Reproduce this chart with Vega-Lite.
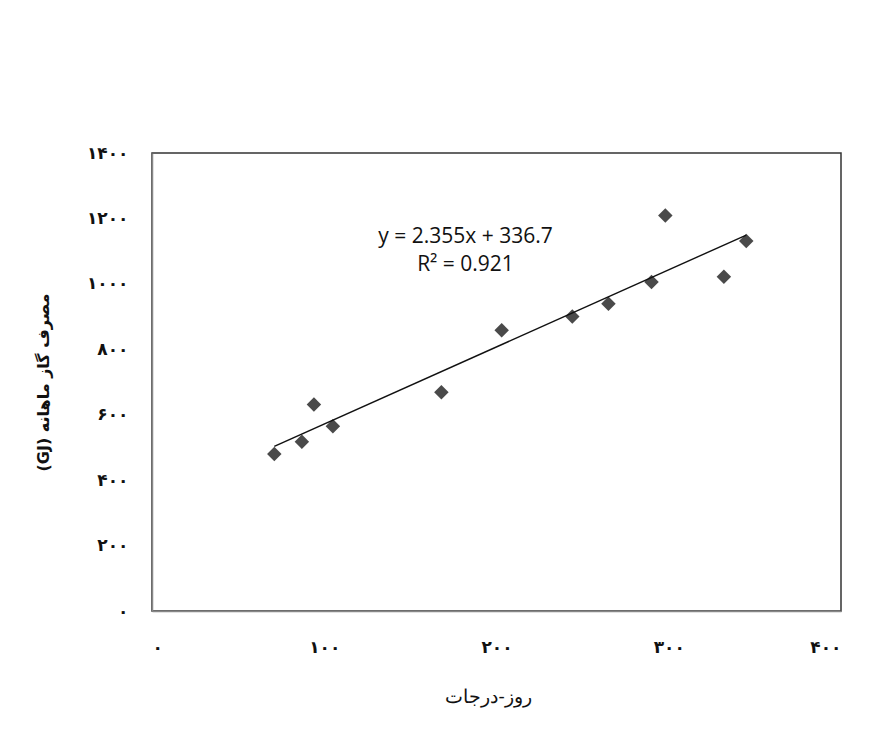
{
  "$schema": "https://vega.github.io/schema/vega-lite/v6.json",
  "autosize": "none",
  "padding": {"left": 152, "top": 153, "right": 43, "bottom": 123},
  "width": 689,
  "height": 458,
  "background": "white",
  "config": {
    "view": {"stroke": "#333333", "strokeWidth": 1.5},
    "axis": {"grid": false, "ticks": false, "domainColor": "#888888", "domainWidth": 1.5,
      "labelFont": "DejaVu Sans", "labelFontWeight": "bold", "labelFontSize": 17, "labelColor": "#111111",
      "titleFont": "DejaVu Sans", "titleFontWeight": "bold", "titleFontSize": 16, "titleColor": "#111111"}
  },
  "datasets": {
    "pts": [
      {"dd": 71, "gas": 480},
      {"dd": 87, "gas": 517},
      {"dd": 94, "gas": 631},
      {"dd": 105, "gas": 565},
      {"dd": 168, "gas": 669},
      {"dd": 203, "gas": 858},
      {"dd": 244, "gas": 900},
      {"dd": 265, "gas": 939},
      {"dd": 290, "gas": 1006},
      {"dd": 298, "gas": 1209},
      {"dd": 332, "gas": 1022},
      {"dd": 345, "gas": 1131}
    ],
    "eq": [
      {"dd": 182, "gas": 1143, "txt": "y = 2.355x + 336.7"},
      {"dd": 182, "gas": 1058, "txt": "R² = 0.921"}
    ]
  },
  "layer": [
    {
      "data": {"name": "pts"},
      "mark": {"type": "point", "shape": "diamond", "filled": true, "color": "#4a4a4a", "size": 210, "opacity": 1},
      "encoding": {
        "x": {"field": "dd", "type": "quantitative", "scale": {"domain": [0, 400], "nice": false},
          "axis": {"values": [0, 100, 200, 300, 400], "labelPadding": 28, "title": "روز-درجات", "titleX": 336, "titleY": 76, "titleFontWeight": "normal", "titleFontSize": 18.5, "titleFont": "DejaVu Serif",
            "labelExpr": "replace(replace(replace(replace(replace(replace(replace(replace(replace(replace(format(datum.value,'d'),regexp('0','g'),'۰'),regexp('1','g'),'۱'),regexp('2','g'),'۲'),regexp('3','g'),'۳'),regexp('4','g'),'۴'),regexp('5','g'),'۵'),regexp('6','g'),'۶'),regexp('7','g'),'۷'),regexp('8','g'),'۸'),regexp('9','g'),'۹')"}},
        "y": {"field": "gas", "type": "quantitative", "scale": {"domain": [0, 1400], "nice": false},
          "axis": {"values": [0, 200, 400, 600, 800, 1000, 1200, 1400], "labelPadding": 24, "title": "(GJ) مصرف گاز ماهانه", "titleX": -101, "titleY": 229,
            "labelExpr": "replace(replace(replace(replace(replace(replace(replace(replace(replace(replace(format(datum.value,'d'),regexp('0','g'),'۰'),regexp('1','g'),'۱'),regexp('2','g'),'۲'),regexp('3','g'),'۳'),regexp('4','g'),'۴'),regexp('5','g'),'۵'),regexp('6','g'),'۶'),regexp('7','g'),'۷'),regexp('8','g'),'۸'),regexp('9','g'),'۹')"}}
      }
    },
    {
      "data": {"name": "pts"},
      "transform": [{"regression": "gas", "on": "dd"}],
      "mark": {"type": "line", "color": "#111111", "strokeWidth": 1.4},
      "encoding": {
        "x": {"field": "dd", "type": "quantitative"},
        "y": {"field": "gas", "type": "quantitative"}
      }
    },
    {
      "data": {"name": "eq"},
      "mark": {"type": "text", "font": "Open Sans", "fontSize": 21, "color": "#111111", "align": "center", "baseline": "middle"},
      "encoding": {
        "x": {"field": "dd", "type": "quantitative"},
        "y": {"field": "gas", "type": "quantitative"},
        "text": {"field": "txt"}
      }
    }
  ]
}
